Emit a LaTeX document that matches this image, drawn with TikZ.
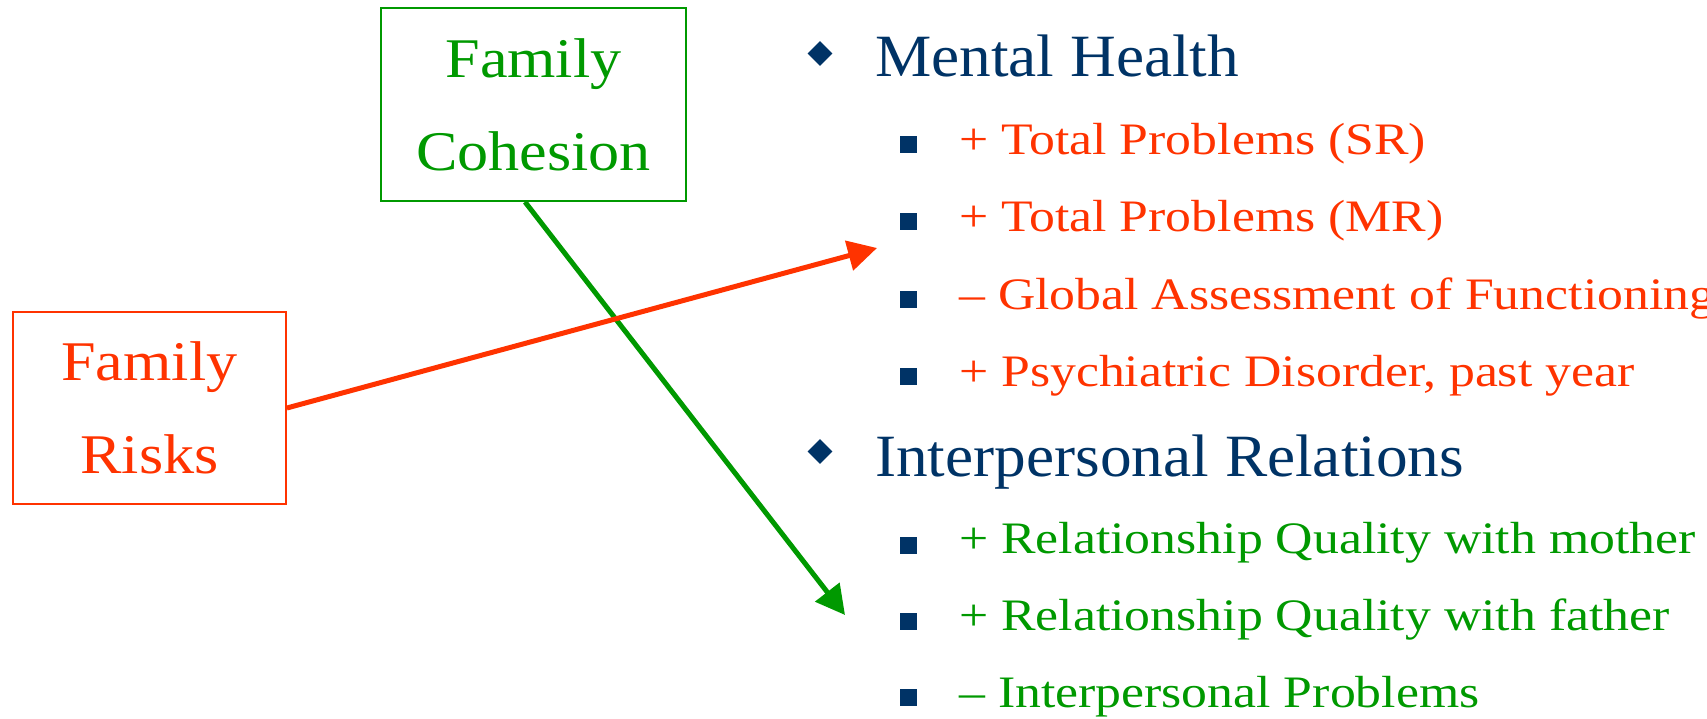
\documentclass[tikz,border=0pt]{standalone}
\usepackage{fontspec}
\setmainfont{Liberation Serif}
\newfontfamily\subfont{Liberation Serif}[FakeStretch=1.15]
\newfontfamily\headfont{Liberation Serif}[FakeStretch=1.055]
\newfontfamily\boxfont{Liberation Serif}[FakeStretch=1.11]
\usetikzlibrary{arrows.meta}
\definecolor{navy}{RGB}{0,51,102}
\definecolor{fred}{RGB}{255,51,0}
\definecolor{fgreen}{RGB}{0,153,0}
\tikzset{
  boxnode/.style={draw, line width=1.8pt, minimum width=305pt, minimum height=193pt, inner sep=0pt, align=center, font=\boxfont\fontsize{56}{93}\selectfont},
  headtext/.style={anchor=base west, inner sep=0pt, text=navy, font=\headfont\fontsize{60}{60}\selectfont},
  subtext/.style={anchor=base west, inner sep=0pt, font=\subfont\fontsize{45}{45}\selectfont},
  dbullet/.style={fill=navy, draw=none, minimum size=17.5pt, inner sep=0pt, rotate=45, shape=rectangle},
  sbullet/.style={fill=navy, draw=none, minimum size=17pt, inner sep=0pt, shape=rectangle},
  arr/.style={line width=5pt, -{Triangle[length=29pt,width=30pt]}}
}
\begin{document}
\begin{tikzpicture}[x=1pt,y=-1pt]
\useasboundingbox (0,0) rectangle (1707,719);
% boxes
\node[boxnode, draw=fgreen, text=fgreen] (fc) at (533.5,104.5) {Family\\Cohesion};
\node[boxnode, draw=fred, text=fred, minimum width=273pt, minimum height=192pt] (fr) at (149.5,408) {Family\\Risks};
% headings
\node[dbullet] (d1) at (820,53.5) {};
\node[headtext] (h1) at (875,77) {Mental Health};
\node[dbullet] (d2) at (820,451.5) {};
\node[headtext] (h2) at (875,476) {Interpersonal Relations};
% sub items
\node[sbullet] (s1) at (908,145) {};
\node[subtext, text=fred] (t1) at (959,155) {+ Total Problems (SR)};
\node[sbullet] (s2) at (908,222) {};
\node[subtext, text=fred] (t2) at (959,232) {+ Total Problems (MR)};
\node[sbullet] (s3) at (908,299) {};
\node[subtext, text=fred] (t3) at (959,309) {– Global Assessment of Functioning};
\node[sbullet] (s4) at (908,376) {};
\node[subtext, text=fred] (t4) at (959,386) {+ Psychiatric Disorder, past year};
\node[sbullet] (s5) at (908,545) {};
\node[subtext, text=fgreen] (t5) at (959,553) {+ Relationship Quality with mother};
\node[sbullet] (s6) at (908,621) {};
\node[subtext, text=fgreen] (t6) at (959,630) {+ Relationship Quality with father};
\node[sbullet] (s7) at (908,697) {};
\node[subtext, text=fgreen] (t7) at (959,707) {– Interpersonal Problems};
% arrows
\coordinate (redtip) at (877,248);
\coordinate (greentip) at (845,615);
\draw[arr, fgreen] ([xshift=-8.5pt]fc.south) -- (greentip);
\draw[arr, fred] (fr.east) -- (redtip);
\end{tikzpicture}
\end{document}
